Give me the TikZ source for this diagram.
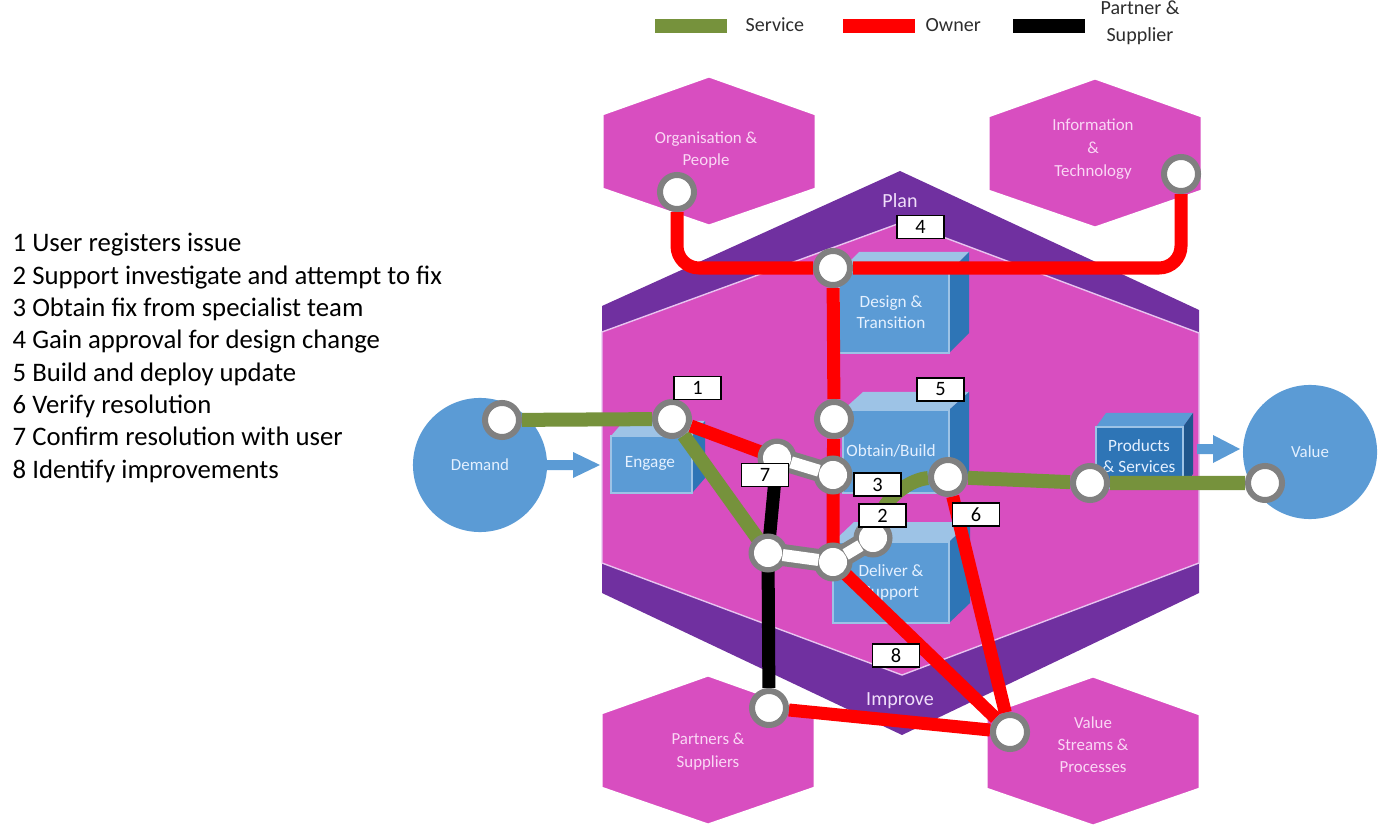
\documentclass[tikz,border=0pt]{standalone}
\usepackage{fontspec}
\setmainfont{Carlito}
\usetikzlibrary{calc}
\definecolor{hexpink}{RGB}{216,78,192}
\definecolor{bandpurple}{RGB}{112,48,160}
\definecolor{edgelav}{RGB}{232,196,240}
\definecolor{cblue}{RGB}{91,155,213}
\definecolor{clight}{RGB}{157,195,230}
\definecolor{cdark}{RGB}{46,117,182}
\definecolor{cdarker}{RGB}{31,86,140}
\definecolor{svcgreen}{RGB}{118,146,60}
\definecolor{ownred}{RGB}{255,0,0}
\definecolor{ringgray}{RGB}{128,128,128}
\definecolor{hextext}{RGB}{250,215,245}
\definecolor{boxtext}{RGB}{228,240,255}
\definecolor{bandtext}{RGB}{240,222,250}
\definecolor{legendgray}{RGB}{45,45,45}
\pgfdeclarelayer{bg}
\pgfdeclarelayer{lines}
\pgfdeclarelayer{pillbase}
\pgfsetlayers{bg,lines,pillbase,main}
\newcommand\hexat[2]{%
  \filldraw[hexpink, draw=white, line width=0.03cm, shift={(#1,#2)}]
    (-107,-37) -- (0,-75) -- (107,-37) -- (107,38) -- (0,75) -- (-107,38) -- cycle;}
% front x1 y1 x2 y2, dx, dy
\newcommand\cubeat[6]{%
  \fill[clight] (#1,#2) -- (#1+#5,#2-#6) -- (#3+#5,#2-#6) -- (#3,#2) -- cycle;
  \fill[cdark] (#3,#2) -- (#3+#5,#2-#6) -- (#3+#5,#4-#6) -- (#3,#4) -- cycle;
  \filldraw[fill=cblue, draw=clight, line width=0.4pt] (#1,#2) rectangle (#3,#4);}
\begin{document}
\begin{tikzpicture}[x=0.01cm,y=-0.01cm,
  service/.style={svcgreen, line width=0.14cm},
  owner/.style={ownred, line width=0.13cm},
  partner/.style={black, line width=0.13cm},
  station/.style={circle, draw=ringgray, line width=0.06cm, fill=white, minimum size=0.34cm, inner sep=0pt},
  pillstation/.style={circle, fill=white, minimum size=0.28cm, inner sep=0pt},
  pillgray/.style={ringgray, line width=0.22cm},
  pillwhite/.style={white, line width=0.12cm},
  numbox/.style={draw=black, fill=white, line width=0.4pt, minimum width=0.47cm, minimum height=0.23cm, inner sep=0pt, font=\fontsize{5.8}{6}\selectfont},
  hexlabel/.style={text=hextext, align=center, inner sep=0pt},
  boxlabel/.style={text=boxtext, align=center, inner sep=0pt, font=\fontsize{4.9}{6}\selectfont},
  bandlabel/.style={text=bandtext, inner sep=0pt, font=\fontsize{5.7}{6}\selectfont},
  legtext/.style={inner sep=0pt, align=center, text=legendgray, font=\fontsize{5.7}{7.7}\selectfont},
  bigcircle/.style={circle, fill=cblue, minimum size=1.34cm, inner sep=0pt, text=boxtext, font=\fontsize{4.8}{6}\selectfont}]
\useasboundingbox (0,0) rectangle (1380,828);

\begin{pgfonlayer}{bg}
% legend
\fill[svcgreen] (655,19) rectangle (727,33);
\node[legtext, anchor=west] (lsvc) at (745,25) {Service};
\fill[ownred] (843,19) rectangle (915,33);
\node[legtext, anchor=west] (lown) at (925,25) {Owner};
\fill[black] (1013,19) rectangle (1085,33);
\node[legtext] (lpar) at (1140,23) {Partner \&\\Supplier};

% left list
\node[anchor=west, align=left, inner sep=0pt, font=\fontsize{7.6}{9.2}\selectfont] (steps) at (12,358)
 {1 User registers issue\\2 Support investigate and attempt to fix\\3 Obtain fix from specialist team\\4 Gain approval for design change\\5 Build and deploy update\\6 Verify resolution\\7 Confirm resolution with user\\8 Identify improvements};

% big hexagon
\fill[bandpurple] (602,306) -- (900,171) -- (1199,310) -- (1199,593) -- (902,735) -- (602,593) -- cycle;
\filldraw[fill=hexpink, draw=edgelav, line width=0.4pt] (602,332) -- (903,222) -- (1199,333) -- (1199,563) -- (902,675) -- (602,563) -- cycle;
\node[bandlabel] (plan) at (900,201) {Plan};
\node[bandlabel] (improve) at (900,701) {Improve};

% satellite hexagons
\hexat{709}{151}
\hexat{1095}{153}
\hexat{708}{750}
\hexat{1093}{751}
\node[hexlabel, font=\fontsize{4.8}{6.5}\selectfont] (orgtxt) at (706,150) {Organisation \&\\People};
\node[hexlabel, font=\fontsize{4.8}{6.6}\selectfont] (inftxt) at (1093,149) {Information\\\&\\Technology};
\node[hexlabel, font=\fontsize{4.8}{6.5}\selectfont] (partxt) at (708,752) {Partners \&\\Suppliers};
\node[hexlabel, font=\fontsize{4.8}{6.3}\selectfont] (vsptxt) at (1093,745) {Value\\Streams \&\\Processes};

% demand / value
\node[bigcircle] (demand) at (480,465) {Demand};
\node[bigcircle] (value) at (1310,452) {Value};
\fill[cblue] (547,460) -- (573,460) -- (573,452) -- (600,465) -- (573,478) -- (573,470) -- (547,470) -- cycle;
\fill[cblue] (1197,444) -- (1213,444) -- (1213,435) -- (1240,449) -- (1213,463) -- (1213,454) -- (1197,454) -- cycle;

% cubes
\cubeat{611}{436}{692}{493}{13}{15}
\node[boxlabel] (engage) at (650,463) {Engage};
\cubeat{839}{272}{949}{353}{20}{20}
\node[boxlabel] (design) at (891,312) {Design \&\\Transition};
\cubeat{843}{410}{949}{493}{20}{18}
\node[boxlabel] (obtain) at (891,451) {Obtain/Build};
\cubeat{833}{542}{949}{623}{21}{20}
\node[boxlabel] (deliver) at (891,582) {Deliver \&\\Support};
\fill[cblue] (1096,427) -- (1106,413) -- (1193,413) -- (1183,427) -- cycle;
\fill[cdarker] (1183,427) -- (1193,413) -- (1193,474) -- (1183,488) -- cycle;
\filldraw[fill=cdark, draw=clight, line width=0.4pt] (1096,427) rectangle (1183,488);
\node[boxlabel] (prodsvc) at (1139,456) {Products\\\& Services};
\end{pgfonlayer}

% stations
\node[station] (dem) at (502,420) {};
\node[station] (s1) at (672,419) {};
\node[station] (op) at (677,192) {};
\node[station] (it) at (1181,174) {};
\node[station] (dt) at (833,268) {};
\node[station] (ob) at (834,419) {};
\node[station] (s6) at (948,477) {};
\node[station] (ps) at (1090,483) {};
\node[station] (val) at (1265,483) {};
\node[station] (pt) at (769,708) {};
\node[station] (vs) at (1010,732) {};
\node[pillstation] (pA) at (777,458) {};
\node[pillstation] (pB) at (833,475) {};
\node[pillstation] (pC) at (768,553) {};
\node[pillstation] (pD) at (833,562) {};
\node[pillstation] (pE) at (873,538) {};

\begin{pgfonlayer}{lines}
\draw[service] (dem) -- (s1);
\draw[service] (s1) -- (pC);
\draw[service] (s6) .. controls (912,479) and (884,496) .. (pE);
\draw[service] (s6) -- (ps) -- (val);
\draw[owner, rounded corners=0.22cm] (op) |- (dt) -| (it);
\draw[owner] (dt) -- (ob) -- (pB) -- (pD);
\draw[owner] (s1) -- (pA);
\draw[owner] (s6) -- (vs);
\draw[owner] (pD) -- (vs);
\draw[owner] (pt) -- (vs);
\draw[partner] (pA) -- (pC) -- (pt);
\end{pgfonlayer}

\begin{pgfonlayer}{pillbase}
\draw[pillgray] (pA) -- (pB);
\draw[pillgray] (pC) -- (pD) -- (pE);
\foreach \p in {pA,pB,pC,pD,pE} \fill[ringgray] (\p) circle (0.195cm);
\end{pgfonlayer}
\draw[pillwhite] (pA) -- (pB);
\draw[pillwhite] (pC) -- (pD) -- (pE);

% number boxes
\node[numbox] (n1) at (697.5,388) {1};
\node[numbox] (n2) at (882.5,515.5) {2};
\node[numbox] (n3) at (877.5,484.5) {3};
\node[numbox] (n4) at (920.5,227) {4};
\node[numbox] (n5) at (940.5,389.5) {5};
\node[numbox] (n6) at (976,514.5) {6};
\node[numbox] (n7) at (765,475) {7};
\node[numbox] (n8) at (896,655.5) {8};
\end{tikzpicture}
\end{document}
